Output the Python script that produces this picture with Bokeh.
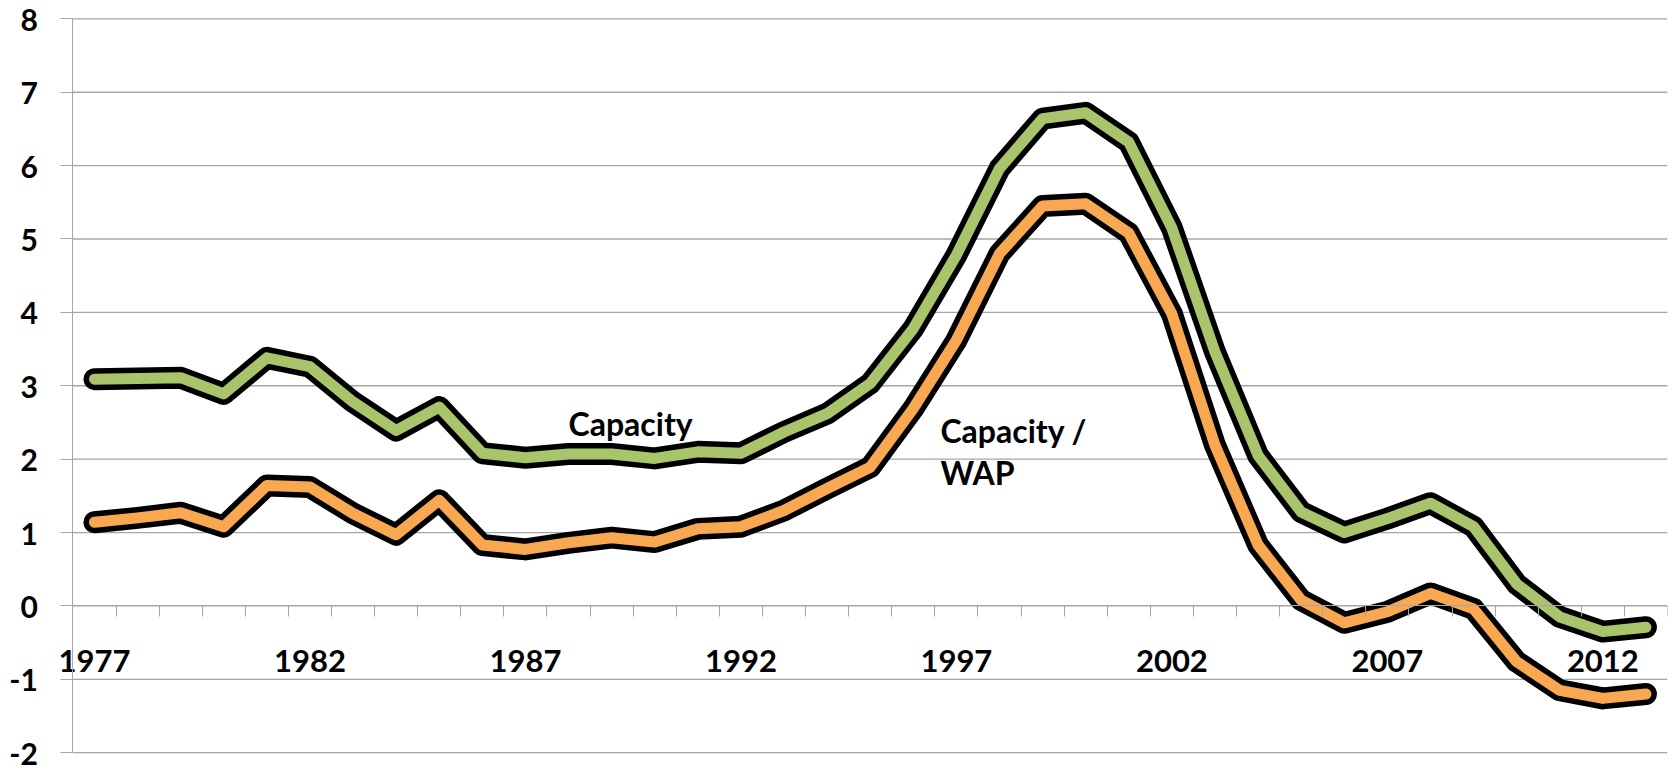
from bokeh.plotting import figure
from bokeh.models import FixedTicker, Label, Range1d, ColumnDataSource
from bokeh.embed import file_html
from bokeh.resources import INLINE

# Annual series, 1977-2013
years = list(range(1977, 2014))
capacity = [3.09, 3.10, 3.11, 2.89, 3.38, 3.26, 2.78, 2.39,
            2.71, 2.08, 2.02, 2.07, 2.07, 2.01, 2.10,
            2.08, 2.37, 2.62, 3.03, 3.78, 4.78, 5.96,
            6.64, 6.72, 6.32, 5.15, 3.46, 2.05, 1.28, 1.00,
            1.19, 1.40, 1.08, 0.30, -0.15, -0.35, -0.29]
capacity_per_wap = [1.14, 1.20, 1.27, 1.08, 1.64, 1.62, 1.26, 0.97,
                    1.44, 0.83, 0.77, 0.86, 0.93, 0.87, 1.05,
                    1.08, 1.30, 1.60, 1.89, 2.69, 3.62, 4.80,
                    5.45, 5.48, 5.08, 3.98, 2.19, 0.83, 0.08, -0.23,
                    -0.08, 0.17, -0.04, -0.76, -1.15, -1.26, -1.20]

# Axis ticks
x_label_years = [1977, 1982, 1987, 1992, 1997, 2002, 2007, 2012]
x_tick_labels = ["1977", "1982", "1987", "1992", "1997", "2002", "2007", "2012"]
y_ticks = [-2, -1, 0, 1, 2, 3, 4, 5, 6, 7, 8]
y_tick_labels = ["-2", "-1", "0", "1", "2", "3", "4", "5", "6", "7", "8"]

FONT = "Lato"
GRID = "#a6a6a6"
GREEN = "#a9c46b"
ORANGE = "#f9a852"
LABEL_STYLE = dict(text_font=FONT, text_font_style="bold", text_color="black")

source = ColumnDataSource(dict(year=years, cap=capacity, wap=capacity_per_wap))

# Both axes float inside the frame (x axis crosses at zero), so the frame
# covers the whole canvas and the data area is padded to leave room for labels.
x_lo, x_hi = years[0] - 0.5, years[-1] + 0.5
y_lo, y_hi = min(y_ticks), max(y_ticks)
PAD_LEFT, PAD_TOP, PAD_BOTTOM = 1.68, 0.25, 0.27

p = figure(width=1676, height=772, output_backend="svg", toolbar_location=None,
           x_range=Range1d(x_lo - PAD_LEFT, x_hi),
           y_range=Range1d(y_lo - PAD_BOTTOM, y_hi + PAD_TOP),
           min_border_left=0, min_border_right=9,
           min_border_top=0, min_border_bottom=0)
p.outline_line_color = None
p.background_fill_color = "white"
p.xgrid.grid_line_color = None
p.ygrid.grid_line_color = None

# horizontal grid lines across the data area
p.segment(x0=[x_lo] * len(y_ticks), y0=y_ticks, x1=[x_hi] * len(y_ticks), y1=y_ticks,
          line_color=GRID, line_width=1.3)

# y axis at the left edge of the data area (line and outward ticks)
ya = p.yaxis[0]
ya.fixed_location = x_lo
ya.bounds = (y_lo, y_hi)
ya.ticker = FixedTicker(ticks=y_ticks)
ya.axis_line_color = GRID
ya.major_tick_line_color = GRID
ya.major_tick_out = 12
ya.major_tick_in = 0
ya.minor_tick_line_color = None
ya.major_label_text_color = None

# value labels, right-aligned left of the ticks
for t, s in zip(y_ticks, y_tick_labels):
    p.add_layout(Label(x=x_lo, y=t, text=s, x_offset=-35, y_offset=-1,
                       text_align="right", text_baseline="middle",
                       text_font_size="30px", **LABEL_STYLE))

# x axis crossing at zero, tick marks between categories
xa = p.xaxis[0]
xa.fixed_location = 0
xa.bounds = (x_lo, x_hi)
xa.ticker = FixedTicker(ticks=x_label_years,
                        minor_ticks=[y - 0.5 for y in years] + [x_hi])
xa.major_label_overrides = {y: s for y, s in zip(x_label_years, x_tick_labels)}
xa.axis_line_color = GRID
xa.major_tick_line_color = None
xa.major_tick_out = 0
xa.major_tick_in = 0
xa.minor_tick_line_color = GRID
xa.minor_tick_out = 11
xa.minor_tick_in = 0
xa.major_label_standoff = 33
xa.major_label_text_font = FONT
xa.major_label_text_font_style = "bold"
xa.major_label_text_font_size = "31px"
xa.major_label_text_color = "black"

# Outlined series lines
for col, color in (("cap", GREEN), ("wap", ORANGE)):
    p.line("year", col, source=source, line_color="black", line_width=22,
           line_join="round", line_cap="round")
    p.line("year", col, source=source, line_color=color, line_width=11,
           line_join="round", line_cap="round")

# Series labels
for text, x, y in (("Capacity", 1988.0, 2.49),
                   ("Capacity /", 1996.63, 2.39),
                   ("WAP", 1996.63, 1.82)):
    p.add_layout(Label(x=x, y=y, text=text, text_baseline="alphabetic",
                       text_align="left", text_font_size="32px", **LABEL_STYLE))

open("out.html", "w").write(file_html(p, INLINE))
